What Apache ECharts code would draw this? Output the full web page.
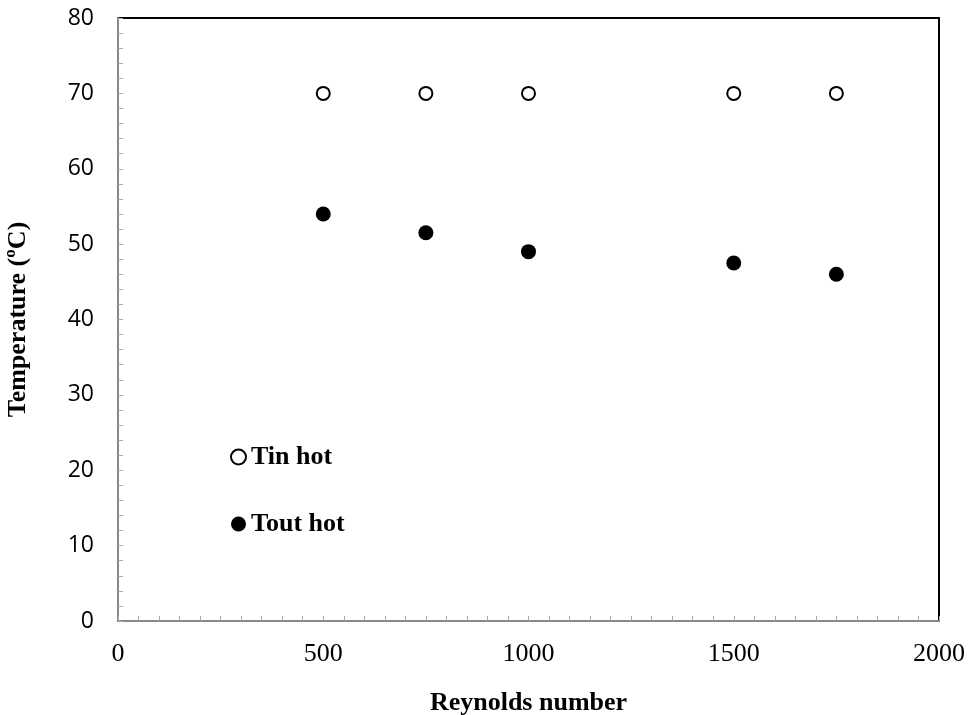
<!DOCTYPE html>
<html>
<head>
<meta charset="utf-8">
<script src="https://cdn.jsdelivr.net/npm/echarts@6/dist/echarts.min.js"></script>
<style>
  html, body { margin: 0; padding: 0; background: #fff; }
  #chart { width: 971px; height: 715px; }
</style>
</head>
<body>
<div id="chart"></div>
<script>
// Reynolds number values
var reynolds = [500, 750, 1000, 1500, 1750];
// temperatures (ºC)
var tinHot = [70, 70, 70, 70, 70];
var toutHot = [54, 51.5, 49, 47.5, 46];

function pairs(xs, ys) {
  var out = [];
  for (var i = 0; i < xs.length; i++) {
    out.push([xs[i], ys[i]]);
  }
  return out;
}

var serif = 'Liberation Serif';

var myChart = echarts.init(document.getElementById('chart'));
myChart.setOption({
  animation: false,
  grid: {
    left: 118, right: 32, top: 18, bottom: 94,
    outerBoundsMode: 'none',
    show: true, borderColor: '#000', borderWidth: 2
  },
  legend: {
    orient: 'vertical',
    left: 230, top: 444,
    padding: 0,
    itemGap: 41,
    itemWidth: 15, itemHeight: 15,
    textStyle: { fontFamily: serif, fontWeight: 'bold', fontSize: 26, lineHeight: 26, color: '#000' },
    data: ['Tin hot', 'Tout hot']
  },
  xAxis: {
    type: 'value',
    min: 0, max: 2000, interval: 500,
    name: 'Reynolds number',
    nameLocation: 'middle',
    nameGap: 69,
    nameTextStyle: { fontFamily: serif, fontWeight: 'bold', fontSize: 26, color: '#000' },
    axisLine: { lineStyle: { color: '#888', width: 2 } },
    axisTick: { inside: true, length: 5, lineStyle: { color: '#aaa' } },
    minorTick: { show: true, splitNumber: 10, length: 5, lineStyle: { color: '#aaa' } },
    axisLabel: {
      fontFamily: serif, fontSize: 26, color: '#000', margin: 20,
      formatter: function (v) { return String(v); }
    },
    splitLine: { show: false }
  },
  yAxis: {
    type: 'value',
    min: 0, max: 80, interval: 10,
    name: 'Temperature (ºC)',
    nameLocation: 'middle',
    nameGap: 87,
    nameTextStyle: { fontFamily: serif, fontWeight: 'bold', fontSize: 26, color: '#000' },
    axisLine: { lineStyle: { color: '#888', width: 2 } },
    axisTick: { inside: true, length: 5, lineStyle: { color: '#aaa' } },
    minorTick: { show: true, splitNumber: 5, length: 5, lineStyle: { color: '#aaa' } },
    axisLabel: { fontFamily: 'Open Sans', fontSize: 23, color: '#000', margin: 24 },
    splitLine: { show: false }
  },
  series: [
    {
      name: 'Tin hot',
      type: 'scatter',
      symbol: 'circle',
      symbolSize: 13,
      itemStyle: { color: '#fff', borderColor: '#000', borderWidth: 2, opacity: 1 },
      data: pairs(reynolds, tinHot)
    },
    {
      name: 'Tout hot',
      type: 'scatter',
      symbol: 'circle',
      symbolSize: 15,
      itemStyle: { color: '#000', opacity: 1 },
      data: pairs(reynolds, toutHot)
    }
  ]
});
</script>
</body>
</html>
